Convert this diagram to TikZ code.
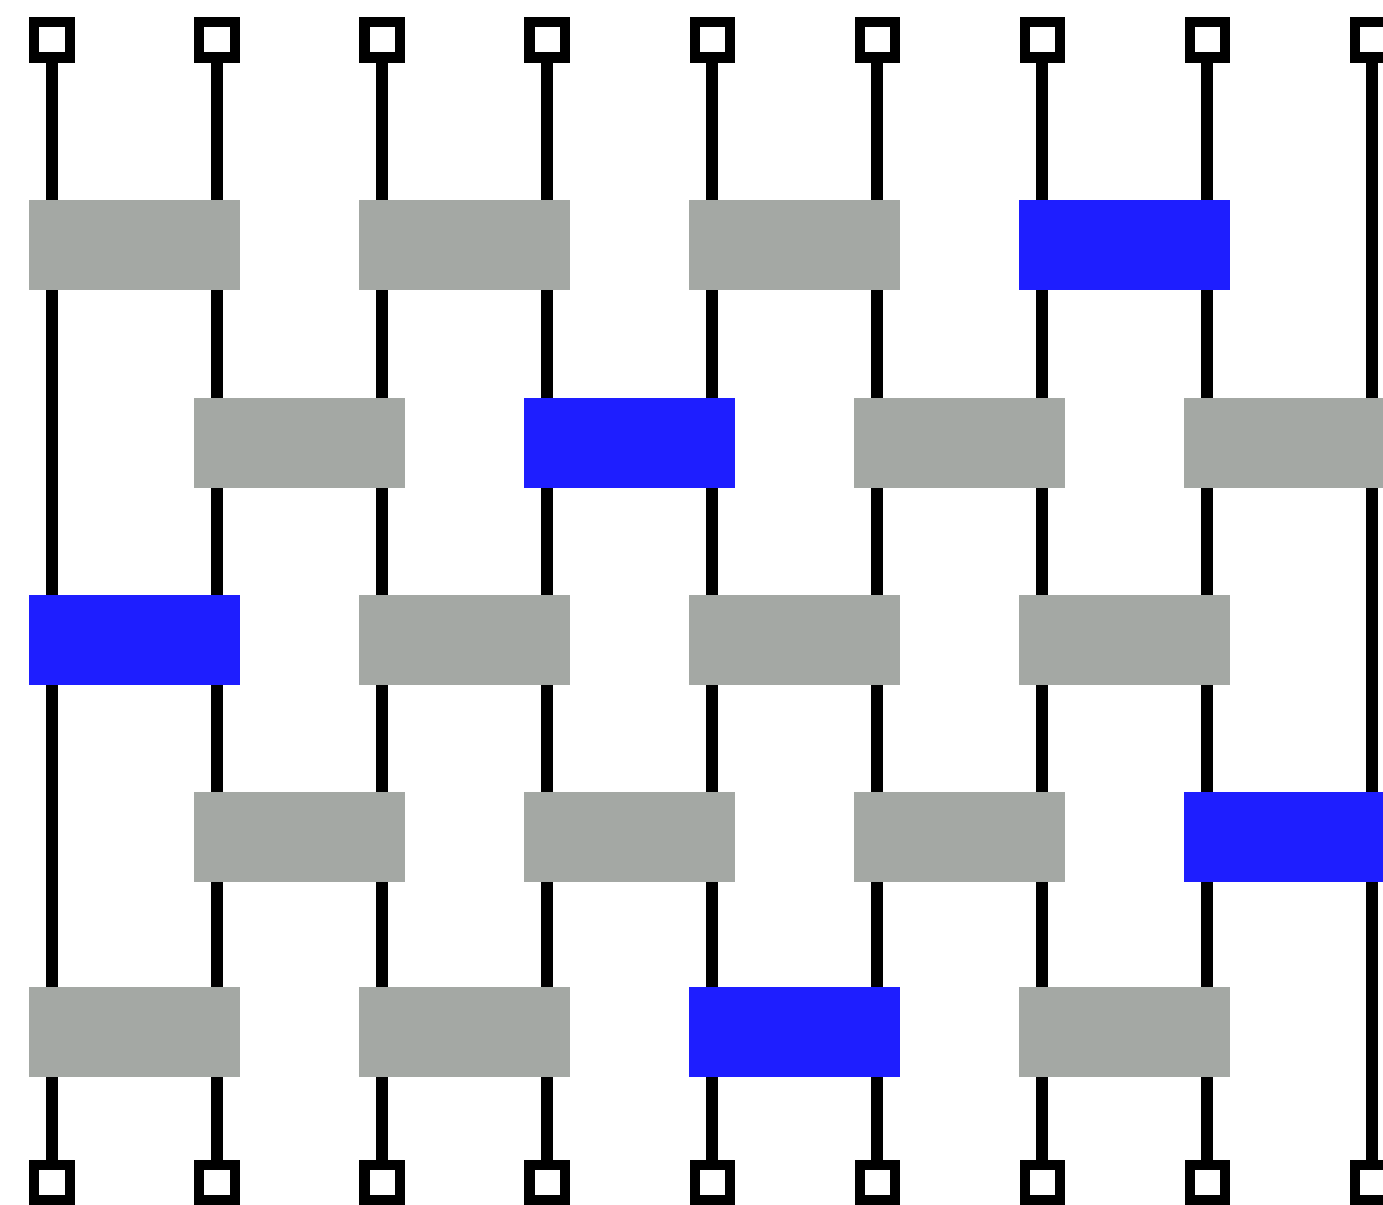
\documentclass[tikz,border=0pt]{standalone}
\usetikzlibrary{calc}
\definecolor{gategray}{RGB}{164,168,164}
\definecolor{gateblue}{RGB}{30,30,255}

\begin{document}
\begin{tikzpicture}[x=0.01cm,y=-0.01cm,
    wire/.style={line width=1.2mm},
    port/.style={draw,fill=white,line width=1mm,minimum size=3.5mm,inner sep=0pt},
    gate/.style={fill=gategray,minimum width=21mm,minimum height=9mm,inner sep=0pt},
    hot/.style={gate,fill=gateblue}]
  \clip (0,0) rectangle (1383,1204);
  % wires with their end ports
  \foreach \k in {1,...,9}{
    \node[port] (in\k) at ({52+165*(\k-1)},40) {};
    \node[port] (out\k) at ({52+165*(\k-1)},1182) {};
    \draw[wire] (in\k) -- (out\k);
  }
  % brick-wall layers, one blue gate per layer
  \foreach \r/\y/\first/\hotp in {1/245/1/7,2/443/2/4,3/640/1/1,4/837/2/8,5/1032/1/5}
    \foreach \j in {0,...,3}{
      \pgfmathtruncatemacro\p{\first+2*\j}
      \ifnum\p=\hotp \def\gs{hot}\else\def\gs{gate}\fi
      \node[\gs] (g\r\p) at ({52+165*(\p-1)+82.5},\y) {};
    }
\end{tikzpicture}
\end{document}
